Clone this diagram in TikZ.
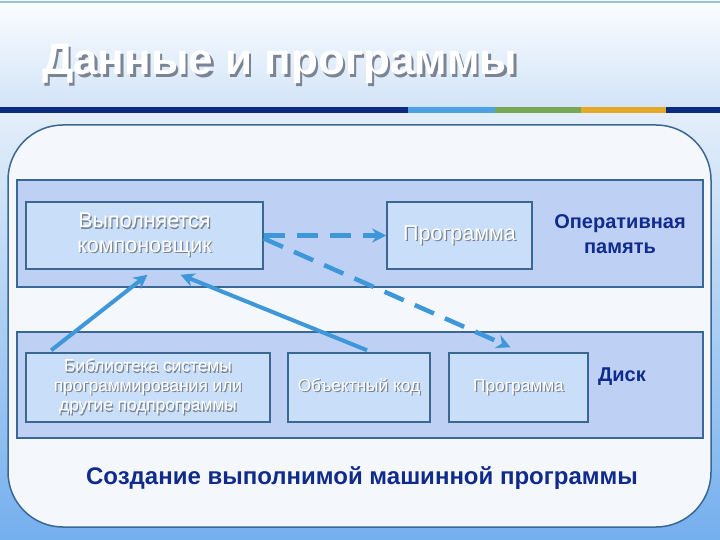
\documentclass[tikz,border=0pt]{standalone}
\usepackage{fontspec}
\setmainfont{Liberation Sans}
\usetikzlibrary{arrows.meta,shadings,calc}
\definecolor{navytext}{HTML}{112B8C}
\definecolor{edgeblue}{HTML}{3A6892}
\definecolor{bandfill}{HTML}{BED0F4}
\definecolor{boxfill}{HTML}{C9DEF8}
\definecolor{arrowblue}{HTML}{3D97D9}
\definecolor{panelfill}{HTML}{F4F8FD}
\definecolor{shadowgray}{HTML}{7A8494}
\definecolor{skytop}{HTML}{FBFDFF}
\definecolor{skymid}{HTML}{D3E4F7}
\definecolor{seatop}{HTML}{E4EEFA}
\definecolor{seabottom}{HTML}{74AFEE}
\definecolor{topline}{HTML}{9CC4D8}
\definecolor{stripenavy}{HTML}{0B2A80}
\definecolor{stripeblue}{HTML}{4BA2E2}
\definecolor{stripegreen}{HTML}{78A854}
\definecolor{stripegold}{HTML}{E6A829}
\newcommand{\shadowtext}[2][1.2pt]{\leavevmode\rlap{\kern#1\lower#1\hbox{\color{shadowgray}#2}}#2}
\tikzstyle{band}=[draw=edgeblue,line width=1.5pt,fill=bandfill]
\tikzstyle{unit}=[rectangle,draw=edgeblue,line width=1.5pt,fill=boxfill,text=white,align=center,inner sep=0pt]
\tikzstyle{memlabel}=[text=navytext,font=\bfseries\fontsize{20}{25}\selectfont,align=center]
\tikzstyle{flow}=[draw=arrowblue,line width=4pt,-{Stealth[length=14pt,width=14pt]}]
\tikzstyle{dashedflow}=[flow,line width=4.5pt,dash pattern=on 21pt off 12pt]

\begin{document}
\begin{tikzpicture}[x=1pt,y=-1pt]
    \useasboundingbox (0,0) rectangle (720,540);

    % slide background
    \shade[top color=skytop, bottom color=skymid] (0,0) rectangle (720,107);
    \shade[top color=seatop, bottom color=seabottom] (0,113) rectangle (720,540);
    \fill[topline] (0,1) rectangle (720,3);
    \foreach \xa/\xb/\col in {0/408/stripenavy, 408/495/stripeblue, 495/581/stripegreen, 581/666/stripegold, 666/720/stripenavy}
        \fill[\col] (\xa,107) rectangle (\xb,113);

    \node[anchor=base west, text=white, inner sep=0pt, font=\bfseries\fontsize{44}{50}\selectfont] (title) at (42,75) {\shadowtext[2.5pt]{Данные и программы}};

    \draw[edgeblue, line width=1.5pt, fill=panelfill, rounded corners=55pt] (8,125) rectangle (711,527);
    \path[band] (17,180) rectangle (703,287);
    \path[band] (17,332) rectangle (703,438);

    \foreach \pos/\name/\w/\h/\txt in {{(144.5,235.5)/link/237/67/{\shadowtext{Выполняется}\\\shadowtext{компоновщик}}}, {(459.5,235.5)/progmem/145/67/{\shadowtext{Программа}}}}
        \node[unit, minimum width=\w, minimum height=\h, font=\fontsize{21.5}{24.5}\selectfont] (\name) at \pos {\txt};

    \foreach \pos/\name/\w/\h/\txt in {{(148,387.5)/lib/244/69/{\shadowtext{Библиотека системы}\\\shadowtext{программирования или}\\\shadowtext{другие подпрограммы}}}, {(359,387.5)/objcode/142/69/{\shadowtext{Объектный код}}}, {(518.5,387.5)/progdisk/139/69/{\shadowtext{Программа}}}}
        \node[unit, minimum width=\w, minimum height=\h, font=\fontsize{17.3}{19.5}\selectfont] (\name) at \pos {\txt};

    \node[memlabel] (ram) at (620,234) {Оперативная\\память};
    \node[memlabel] (disk) at (622,377) {Диск};
    \node[memlabel, font=\bfseries\fontsize{24}{28}\selectfont] (caption) at (362,478) {Создание выполнимой машинной программы};

    \draw[dashedflow] (link.east) -- (progmem.west);
    \draw[dashedflow] ($(link.east)+(0,3)$) -- ($(progdisk.north)+(-8,-5)$);
    \draw[flow] ($(lib.north west)+(26,-2)$) -- ($(link.south)+(3,5)$);
    \draw[flow] ($(objcode.north)+(8,-2)$) -- ($(link.south)+(36,5)$);

\end{tikzpicture}
\end{document}
